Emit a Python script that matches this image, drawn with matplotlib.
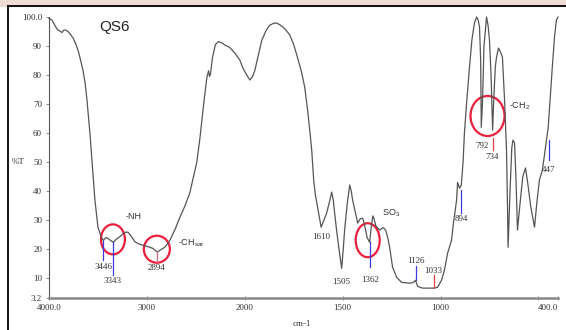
import numpy as np
import matplotlib.pyplot as plt
from matplotlib.patches import Ellipse, Rectangle
from matplotlib.lines import Line2D
from matplotlib.transforms import ScaledTranslation

# spectrum QS6 (wavenumber cm-1, %T)
wavenumber = [4000, 3970, 3930, 3908, 3880, 3867, 3850, 3830, 3806, 3780, 3755, 3730,
              3704, 3680, 3653, 3630, 3612, 3595, 3582, 3561, 3531, 3500, 3470, 3446,
              3420, 3400, 3370, 3343, 3310, 3270, 3230, 3194, 3160, 3120, 3080, 3041,
              3000, 2939, 2894, 2860, 2816, 2765, 2710, 2663, 2610, 2561, 2531, 2490,
              2459, 2420, 2388, 2370, 2360, 2350, 2330, 2300, 2270, 2240, 2200, 2153,
              2100, 2051, 2020, 1990, 1974, 1960, 1949, 1930, 1913, 1890, 1872, 1850,
              1837, 1820, 1806, 1790, 1770, 1750, 1730, 1710, 1694, 1679, 1665, 1658,
              1648, 1640, 1628, 1610, 1582, 1565, 1556, 1548, 1541, 1530, 1520, 1505,
              1497, 1490, 1476, 1464, 1456, 1449, 1436, 1423, 1410, 1398, 1390, 1383,
              1375, 1362, 1355, 1346, 1340, 1330, 1311, 1300, 1291, 1280, 1270, 1260,
              1245, 1224, 1199, 1158, 1140, 1128, 1117, 1092, 1056, 1033, 1015, 995,
              980, 964, 944, 934, 918, 913, 903, 894, 885, 878, 865, 852, 840, 827,
              816, 808, 801, 795, 792, 786, 778, 765, 757, 750, 742, 734, 728, 720,
              714, 704, 694, 684, 673, 663, 658, 655, 645, 636, 630, 622, 615, 607,
              595, 580, 566, 555, 540, 520, 508, 495, 480, 470, 459, 450, 444, 436,
              429, 418, 408, 400]
transmittance = [99.5, 99.0, 96.5, 95.5, 95.0, 94.6, 95.5, 95.5, 95.0, 94.0, 92.8, 91.0,
                 88.6, 85.5, 81.7, 77.0, 71.4, 65.0, 60.0, 50.7, 37.0, 27.6, 24.5, 23.0,
                 24.0, 23.8, 23.0, 22.4, 23.5, 24.5, 25.8, 25.9, 24.5, 22.5, 21.8, 21.4,
                 21.0, 20.3, 19.0, 19.8, 20.7, 23.1, 27.0, 31.0, 35.0, 39.5, 44.0, 50.0,
                 58.0, 70.0, 79.0, 81.5, 79.5, 80.5, 86.0, 90.5, 91.5, 91.2, 90.3, 89.5,
                 87.5, 85.2, 82.5, 80.0, 78.3, 79.5, 81.5, 87.0, 92.0, 95.5, 97.2, 97.9,
                 97.9, 97.3, 96.6, 95.5, 93.8, 90.5, 85.9, 81.0, 75.9, 67.9, 59.0, 54.1,
                 43.8, 39.0, 34.5, 27.6, 32.4, 37.0, 39.7, 37.0, 32.4, 26.0, 20.7, 13.4,
                 20.0, 26.6, 36.0, 42.1, 40.0, 36.9, 33.0, 29.0, 30.5, 30.7, 29.0, 26.6,
                 24.0, 22.4, 27.0, 31.5, 30.5, 28.0, 26.6, 27.2, 27.4, 26.5, 24.1, 20.7,
                 13.8, 10.3, 8.6, 8.3, 8.5, 9.3, 7.2, 6.6, 6.6, 6.6, 6.9, 9.3,
                 12.8, 18.6, 23.1, 29.0, 36.9, 43.0, 41.0, 42.0, 50.0, 60.0, 72.0, 82.8, 92.0, 97.9,
                 100.0, 99.0, 96.6, 85.0, 62.0, 70.0, 90.0, 100.0, 97.0, 92.0, 80.0, 61.0, 72.0, 83.0,
                 86.2, 89.3, 88.0, 86.2, 71.4, 54.1, 35.0, 20.7, 40.0, 55.0, 57.6, 56.6, 45.0, 26.6,
                 35.0, 45.0, 48.0, 43.0, 35.0, 27.6, 36.0, 43.8, 47.2, 52.0, 57.6, 62.0, 68.0, 76.0,
                 82.8, 93.0, 99.0, 100.0]

# marked peaks: label, wavenumber, line top (%T), line bottom (%T), colour of marker line
peak_labels = ['3446', '3343', '2894', '1610', '1505', '1362', '1126', '1033', '894', '792', '734', '447']
peak_wn = [3446, 3343, 2894, 1610, 1505, 1362, 1126, 1033, 894, 792, 734, 447]
peak_line = [(23.0, 16.2), (22.4, 11.0), (19.0, 15.5), None, None, (22.4, 13.8),
             (14.1, 9.3), (11.0, 6.6), (40.3, 32.4), None, (58.3, 54.1), (57.6, 50.7)]
peak_color = ['#3a3ae0', '#3a3ae0', '#e06080', None, None, '#3a3ae0',
              '#3a3ae0', '#e04040', '#3a3ae0', None, '#e04040', '#3a3ae0']
# label positions (wavenumber, %T)
peak_text_pos = [(3446, 13.8), (3352, 9.0), (2905, 13.4), (1612, 24.1), (1505, 8.6),
                 (1362, 9.3), (1128, 15.9), (1036, 12.4), (893, 30.3), (786, 55.5),
                 (735, 51.7), (450, 47.2)]

groups = ['-NH', r'-CH$_\mathregular{sat}$', r'SO$_\mathregular{3}$', r'-CH$_\mathregular{2}$']
group_pos = [(3220, 31.4), (2684, 22.1), (1301, 32.4), (648, 69.3)]

# red circles: centre (wavenumber, %T), size in pixels
circle_center = [(3347, 23.4), (2898, 20.0), (1372, 23.1), (760, 65.9)]
circle_size = [(24, 30), (26, 27), (24, 34), (34, 40)]

x_ticks = [4000, 3000, 2000, 1500, 1000, 500, 400]
x_ticklabels = ['4000.0', '3000', '2000', '1500', '1000', '', '400.0']
y_ticks = [3.2, 10, 20, 30, 40, 50, 60, 70, 80, 90, 100]
y_ticklabels = ['3.2', '10', '20', '30', '40', '50', '60', '70', '80', '90', '100.0']


# instrument x axis: scale doubles below 2000 cm-1
def fwd(w):
    w = np.asarray(w, dtype=float)
    return np.where(w > 2000, 2000 + (w - 2000) / 2, w)


def inv(u):
    u = np.asarray(u, dtype=float)
    return np.where(u > 2000, 2000 + (u - 2000) * 2, u)


W, H = 566, 330
fig = plt.figure(figsize=(W / 100, H / 100), dpi=100)
ax = fig.add_axes([49 / W, 1 - 298 / H, (558 - 49) / W, (298 - 17) / H])
ax.set_xscale('function', functions=(fwd, inv))
ax.set_xlim(4000, 400)
ax.set_ylim(3.2, 100)

ax.plot(wavenumber, transmittance, color='#555555', lw=0.9, clip_on=False)

serif = 'Liberation Serif'
for lbl, wn, ln, col, pos in zip(peak_labels, peak_wn, peak_line, peak_color, peak_text_pos):
    if ln is not None:
        ax.plot([wn, wn], ln, color=col, lw=0.9)
    ax.text(pos[0], pos[1], lbl, family=serif, fontsize=6.5, color='#333333',
            ha='center', va='center')

for g, pos in zip(groups, group_pos):
    ax.text(pos[0], pos[1], g, family='Liberation Sans', fontsize=6.5, color='#333333',
            ha='left', va='center')

for c, s in zip(circle_center, circle_size):
    tr = fig.dpi_scale_trans + ScaledTranslation(c[0], c[1], ax.transData)
    ax.add_patch(Ellipse((0, 0), s[0] / 100, s[1] / 100, transform=tr, fill=False,
                         edgecolor='#e8203a', lw=1.6, clip_on=False))

ax.text(0.128, 0.964, 'QS6', transform=ax.transAxes, family='Liberation Sans',
        fontsize=11, color='#222222', ha='center', va='center')

ax.set_xticks(x_ticks)
ax.set_xticklabels(x_ticklabels)
ax.minorticks_off()
ax.set_yticks(y_ticks)
ax.set_yticklabels(y_ticklabels)
for t in ax.get_xticklabels() + ax.get_yticklabels():
    t.set_family(serif)
    t.set_fontsize(6.5)
    t.set_color('#333333')
ax.get_xticklabels()[-1].set_ha('right')
ax.tick_params(axis='both', length=2, width=0.6, color='#777777', pad=3)
ax.tick_params(axis='x', direction='inout', length=3)

for s in ['top', 'right']:
    ax.spines[s].set_visible(False)
ax.spines['left'].set_color('#555555')
ax.spines['left'].set_linewidth(0.8)
ax.spines['bottom'].set_color('#888888')
ax.spines['bottom'].set_linewidth(1.8)

fig.text(18 / W, 1 - 162 / H, '%T', family=serif, fontsize=6.5, color='#333333',
         ha='center', va='center')
fig.text(302 / W, 1 - 324 / H, 'cm-1', family=serif, fontsize=6.5, color='#333333',
         ha='center', va='center')

# page frame and scan background above it
fig.add_artist(Rectangle((0, 1 - 6 / H), 1, 6 / H, transform=fig.transFigure,
                         color='#efdcd2', zorder=0))
fig.add_artist(Line2D([8 / W, 1], [1 - 6 / H, 1 - 6 / H], transform=fig.transFigure,
                      color='black', lw=1.3))
fig.add_artist(Line2D([8 / W, 8 / W], [0, 1 - 6 / H], transform=fig.transFigure,
                      color='black', lw=1.3))

fig.savefig('out.png', dpi=100)
